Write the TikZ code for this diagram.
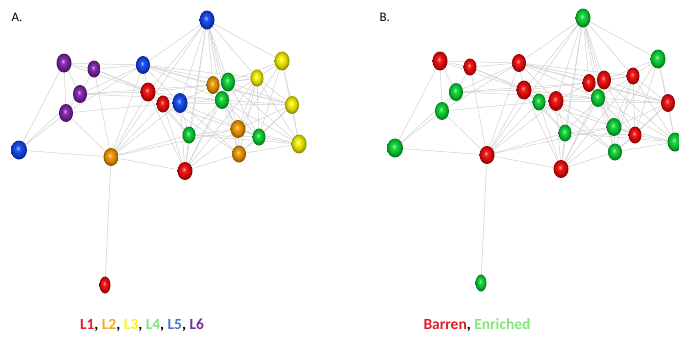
\documentclass[tikz,border=0pt]{standalone}
\usepackage{fontspec}
\setmainfont{Carlito}
\usetikzlibrary{shapes.geometric,backgrounds}
\definecolor{cred}{RGB}{240,10,10}
\definecolor{corange}{RGB}{240,150,0}
\definecolor{cyellow}{RGB}{245,240,0}
\definecolor{cgreen}{RGB}{10,210,50}
\definecolor{cblue}{RGB}{20,70,240}
\definecolor{cpurple}{RGB}{125,35,170}
\definecolor{lred}{RGB}{225,30,40}
\definecolor{lorange}{RGB}{245,170,30}
\definecolor{lyellow}{RGB}{250,245,20}
\definecolor{lgreen}{RGB}{130,230,120}
\definecolor{lblue}{RGB}{70,120,190}
\definecolor{lpurple}{RGB}{112,48,160}
\definecolor{edgegray}{RGB}{208,208,208}
\colorlet{mybc}{red}
\pgfdeclareradialshading[mybc]{sphere}{\pgfpoint{-4bp}{5bp}}{%
  color(0bp)=(mybc!35!white); color(7bp)=(mybc!92!white); color(17bp)=(mybc!85!black);
  color(24bp)=(mybc!60!black); color(50bp)=(mybc!50!black)}
\begin{document}
\begin{tikzpicture}[x=1pt,y=-1pt,
  ball/.style={shape=ellipse,inner sep=0pt,shading=sphere},
  edge/.style={draw=edgegray,line width=0.5pt},
  panellabel/.style={font=\fontsize{13}{15}\selectfont,anchor=west},
  legend/.style={font=\bfseries\fontsize{15.5}{18}\selectfont}]
\useasboundingbox (0,0) rectangle (679,338);
\foreach \n/\x/\y/\ca/\cb/\w/\h in {
  t/207/20/cblue/cgreen/15/19,
  p1/64/63/cpurple/cred/15/19,
  p2/94/69/cpurple/cred/13/17,
  p3/80/94/cpurple/cgreen/14/18,
  p4/66/113/cpurple/cgreen/14/18,
  bl/19/150/cblue/cgreen/16/19,
  b2/143/65/cblue/cred/14/18,
  r1/148/92/cred/cred/15/19,
  r2/163/104/cred/cgreen/13/17,
  b3/180/103/cblue/cred/15/20,
  o1/111/157/corange/cred/15/18,
  g1/189/135/cgreen/cgreen/13/17,
  r3/185/171/cred/cred/15/18,
  o2/213/85/corange/cred/13/18,
  g2/228/82/cgreen/cred/14/19,
  g3/222/100/cgreen/cgreen/14/18,
  y1/257/78/cyellow/cred/13/17,
  y2/282/61/cyellow/cgreen/15/19,
  y3/292/105/cyellow/cred/14/18,
  o3/238/129/corange/cgreen/15/18,
  g4/259/137/cgreen/cred/13/17,
  o4/239/154/corange/cgreen/14/17,
  y4/299/144/cyellow/cgreen/15/19,
  rb/105/285/cred/cgreen/11/17}{
  \colorlet{mybc}{\ca}
  \node[ball,minimum width=\w pt,minimum height=\h pt] (A\n) at (\x,\y) {};
  \colorlet{mybc}{\cb}
  \node[ball,minimum width=\w pt,minimum height=\h pt] (B\n) at (\x+376,\y-2) {};
}
\begin{scope}[on background layer]
\foreach \a/\b in {
  bl/p1, bl/p4, bl/o1, bl/p3,
  p1/p2, p1/p4, p1/b2, p1/p3, p1/r1,
  p2/b2, p2/o1, p2/r1, p2/b3, p2/p3,
  p3/b2, p3/r1, p3/p4, p3/g3, p3/o2,
  p4/o1, p4/b2, p4/r2,
  o1/b2, o1/r1, o1/r2, o1/g1, o1/t, o1/r3, o1/rb, o1/b3, o1/o3,
  t/b2, t/r1, t/b3, t/r3, t/g1, t/o2, t/g2, t/g3, t/y1, t/y2, t/o3, t/o4,
  b2/r1, b2/o2, b2/g2, b2/g3, b2/y1, b2/b3, b2/y3,
  r1/r2, r1/r3, r1/o2, r1/g3, r1/g1,
  r2/b3, r2/r3, r2/g1, r2/o3, r2/o4,
  b3/g3, b3/o2, b3/y3, b3/g4, b3/o4, b3/r3, b3/g1,
  g1/r3, g1/o3, g1/g3, g1/y4, g1/g4,
  r3/o4, r3/g3, r3/o3, r3/y1, r3/g2,
  o2/g2, o2/g3, o2/y1, o2/y3, o2/o3,
  g2/y1, g2/y2, g2/g3, g2/y3, g2/g4, g2/y4,
  g3/y1, g3/y3, g3/o3, g3/o4, g3/g4, g3/y4,
  y1/y2, y1/y3, y1/o3, y1/g4, y1/y4, y1/o4,
  y2/y3, y2/g4, y2/o3, y2/y4,
  y3/y4, y3/g4, y3/o3, y3/o4,
  o3/g4, o3/o4, o3/y4,
  g4/o4, g4/y4, o4/y4}{
  \draw[edge] (A\a.center) -- (A\b.center);
  \draw[edge] (B\a.center) -- (B\b.center);
}
\end{scope}
\node[panellabel] (labA) at (8,17) {A.};
\node[panellabel] (labB) at (376,17) {B.};
\node[legend] (legA) at (142,325) {\textcolor{lred}{L1}, \textcolor{lorange}{L2}, \textcolor{lyellow}{L3}, \textcolor{lgreen}{L4}, \textcolor{lblue}{L5}, \textcolor{lpurple}{L6}};
\node[legend] (legB) at (477,325) {\textcolor{lred}{Barren}, \textcolor{lgreen}{Enriched}};
\end{tikzpicture}
\end{document}
